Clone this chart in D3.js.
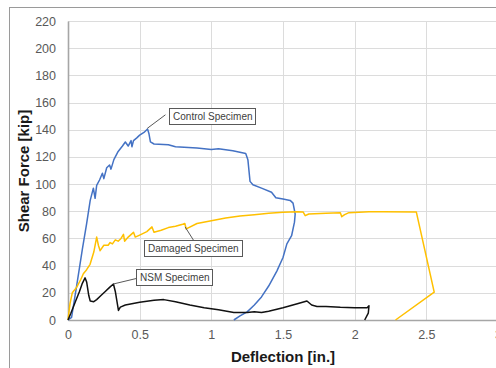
<!DOCTYPE html>
<html>
<head>
<meta charset="utf-8">
<script src="https://cdn.jsdelivr.net/npm/d3@7"></script>
<style>
  body { margin: 0; background: #fff; }
  #chart { width: 496px; height: 368px; overflow: hidden; }
</style>
</head>
<body>
<div id="chart"></div>
<script>
// chart values
var xTicks = [0, 0.5, 1, 1.5, 2, 2.5, 3];
var yTicks = [0, 20, 40, 60, 80, 100, 120, 140, 160, 180, 200, 220];

var controlX = [0, 0.025, 0.06, 0.1, 0.13, 0.155, 0.177, 0.189, 0.2, 0.22, 0.24, 0.25, 0.27, 0.29, 0.3, 0.32, 0.35, 0.38, 0.4, 0.42, 0.44, 0.446, 0.457, 0.48, 0.5, 0.53, 0.555, 0.565, 0.575, 0.6, 0.7, 0.75, 0.9, 1.0, 1.05, 1.15, 1.24, 1.255, 1.27, 1.29, 1.35, 1.42, 1.45, 1.5, 1.55, 1.57, 1.585, 1.58, 1.56, 1.527, 1.5, 1.457, 1.4, 1.35, 1.3, 1.25, 1.2, 1.157];
var controlY = [0, 2, 25, 52, 71, 88, 97, 89.5, 99, 103, 108, 104, 112, 114, 111, 118, 124, 128, 131, 128, 132, 127.5, 132, 134, 136, 138, 140.5, 137, 131, 129.5, 129, 127.5, 126.5, 125.5, 126, 124.5, 122.5, 118, 102, 99.5, 97, 94, 90, 89, 88, 86, 78, 72, 62, 56, 46, 36, 25, 17, 11, 6, 3, 0];

var damagedX = [0, 0.014, 0.03, 0.06, 0.09, 0.107, 0.13, 0.154, 0.18, 0.2, 0.212, 0.224, 0.25, 0.28, 0.294, 0.31, 0.33, 0.35, 0.37, 0.387, 0.395, 0.42, 0.457, 0.469, 0.5, 0.55, 0.586, 0.6, 0.65, 0.7, 0.75, 0.8, 0.815, 0.825, 0.9, 1.0, 1.1, 1.2, 1.3, 1.4, 1.5, 1.6, 1.64, 1.655, 1.68, 1.8, 1.9, 1.91, 1.93, 1.96, 2.1, 2.2, 2.43, 2.555, 2.285];
var damagedY = [0, 12, 20, 24, 30, 34, 37, 41, 50, 61, 55, 51, 55, 55, 57, 56, 59, 58, 60, 63, 58, 61, 64.5, 61, 62.5, 65, 68.5, 64.5, 66, 68, 69, 70.5, 71, 67, 71, 73, 75, 76.5, 77.5, 78.5, 79.2, 79.6, 79.5, 76.8, 78, 78.5, 79, 76, 77.5, 79, 79.6, 79.6, 79.5, 20.5, 0];

var nsmX = [0, 0.02, 0.05, 0.08, 0.1, 0.119, 0.13, 0.145, 0.155, 0.18, 0.2, 0.23, 0.26, 0.29, 0.317, 0.33, 0.352, 0.365, 0.4, 0.5, 0.6, 0.668, 0.75, 0.85, 0.95, 1.05, 1.157, 1.25, 1.3, 1.35, 1.4, 1.5, 1.6, 1.667, 1.7, 1.737, 1.8, 1.9, 2.0, 2.087, 2.1, 2.095, 2.07];
var nsmY = [0, 5, 13, 21, 27, 31, 28, 18, 14, 13.5, 15, 18, 21, 24, 26.5, 21, 7, 9.5, 11, 13, 14.5, 15, 13.5, 11, 9, 7.5, 5.6, 5.5, 6, 5.5, 6.5, 9, 12, 14, 11, 10, 10, 9.3, 9, 9, 10.5, 5, 0];

var seriesNames = ["Control Specimen", "Damaged Specimen", "NSM Specimen"];
var seriesColors = ["#4472C4", "#FFC000", "#111111"];

var width = 496, height = 368;
var margin = { top: 21, right: -2, bottom: 48, left: 68 };
var plotW = width - margin.left - margin.right;
var plotH = height - margin.top - margin.bottom;

var svg = d3.select("#chart").append("svg")
    .attr("width", width)
    .attr("height", height)
    .style("font-family", "'Liberation Sans', Arial, sans-serif");

// outer chart border
svg.append("rect")
    .attr("x", 9.5).attr("y", 7.5)
    .attr("width", 600).attr("height", 600)
    .attr("fill", "#fff")
    .attr("stroke", "#9a9a9a");

var g = svg.append("g").attr("transform", "translate(" + margin.left + "," + margin.top + ")");

var x = d3.scaleLinear().domain([0, 3]).range([0, plotW]);
var y = d3.scaleLinear().domain([0, 220]).range([plotH, 0]);

// grid
g.selectAll(".hgrid").data(yTicks.slice(1)).enter().append("line")
    .attr("x1", 0).attr("x2", plotW)
    .attr("y1", function(d) { return Math.round(y(d)) + 0.5; })
    .attr("y2", function(d) { return Math.round(y(d)) + 0.5; })
    .attr("stroke", "#dcdcdc");
g.selectAll(".vgrid").data(xTicks.slice(1)).enter().append("line")
    .attr("y1", 0).attr("y2", plotH)
    .attr("x1", function(d) { return Math.round(x(d)) + 0.5; })
    .attr("x2", function(d) { return Math.round(x(d)) + 0.5; })
    .attr("stroke", "#dcdcdc");

// axes
var xAxis = g.append("g").attr("transform", "translate(0," + plotH + ")")
    .call(d3.axisBottom(x).tickValues(xTicks).tickSize(0).tickPadding(10).tickFormat(d3.format("")));
var yAxis = g.append("g")
    .call(d3.axisLeft(y).tickValues(yTicks).tickSize(0).tickPadding(12));
[xAxis, yAxis].forEach(function(a) {
    a.select(".domain").attr("stroke", "#a6a6a6").attr("stroke-width", 1.6);
    a.selectAll("text").attr("fill", "#595959").style("font-size", "12.5px")
        .style("font-family", "'Liberation Sans', Arial, sans-serif");
});

// curves
var line = d3.line()
    .x(function(d) { return x(d[0]); })
    .y(function(d) { return y(d[1]); });

var series = [
    d3.zip(controlX, controlY),
    d3.zip(damagedX, damagedY),
    d3.zip(nsmX, nsmY)
];
series.forEach(function(s, i) {
    g.append("path")
        .datum(s)
        .attr("d", line)
        .attr("fill", "none")
        .attr("stroke", seriesColors[i])
        .attr("stroke-width", 1.5)
        .attr("stroke-linejoin", "round");
});

// callouts: box corner and leader target in data units
var callouts = [
    { name: seriesNames[0], bx: 0.705, by: 156, from: [0.68, 151], to: [0.553, 141] },
    { name: seriesNames[1], bx: 0.53, by: 58.8, from: [0.875, 58.8], to: [0.817, 68.5] },
    { name: seriesNames[2], bx: 0.475, by: 37.5, from: [0.475, 30.5], to: [0.317, 26.5] }
];
callouts.forEach(function(c) {
    g.append("line")
        .attr("x1", x(c.from[0])).attr("y1", y(c.from[1]))
        .attr("x2", x(c.to[0])).attr("y2", y(c.to[1]))
        .attr("stroke", "#595959").attr("stroke-width", 1);
    var t = g.append("text")
        .attr("x", x(c.bx) + 4)
        .attr("y", y(c.by) + 12)
        .attr("fill", "#404040")
        .style("font-size", "10px")
        .text(c.name);
    var bb = t.node().getBBox();
    g.insert("rect", function() { return t.node(); })
        .attr("x", Math.round(x(c.bx)) + 0.5)
        .attr("y", Math.round(y(c.by)) + 0.5)
        .attr("width", Math.round(bb.width + 7))
        .attr("height", 16)
        .attr("fill", "#fff")
        .attr("stroke", "#595959");
});

// titles
svg.append("text")
    .attr("x", 283).attr("y", 362)
    .attr("text-anchor", "middle")
    .style("font-size", "15px").style("font-weight", "bold")
    .attr("fill", "#1a1a1a")
    .text("Deflection [in.]");
svg.append("text")
    .attr("transform", "translate(29,171) rotate(-90)")
    .attr("text-anchor", "middle")
    .style("font-size", "15px").style("font-weight", "bold")
    .attr("fill", "#1a1a1a")
    .text("Shear Force [kip]");
</script>
</body>
</html>
